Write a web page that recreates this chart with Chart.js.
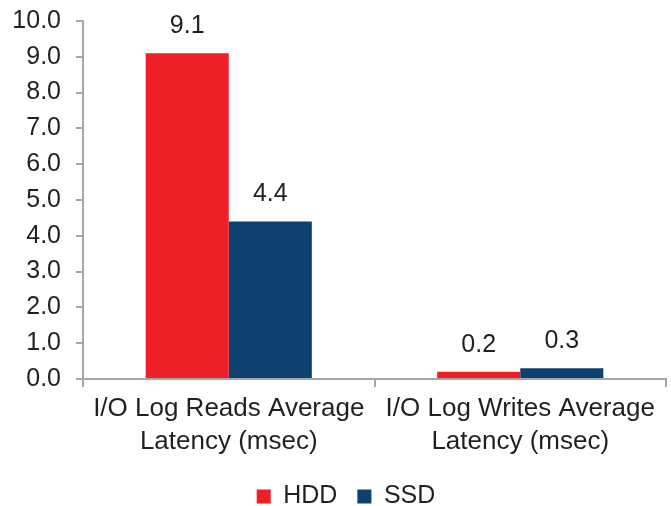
<!DOCTYPE html>
<html lang="en">
<head>
    <meta charset="UTF-8">
    <script src="https://cdn.jsdelivr.net/npm/chart.js"></script>
    <title>I/O Log Latency</title>
    <style>
        body { margin: 0; background: #fff; }
        #wrap { width: 671px; height: 506px; }
    </style>
</head>
<body>
    <div id="wrap"><canvas id="latencyChart" width="671" height="506"></canvas></div>

    <script>
        // chart data
        const categories = [
            ['I/O Log Reads Average', 'Latency (msec)'],
            ['I/O Log Writes Average', 'Latency (msec)']
        ];
        const hddValues = [9.1, 0.2];
        const ssdValues = [4.4, 0.3];
        const seriesNames = ['HDD', 'SSD'];

        const textColor = '#231F20';
        const axisColor = '#A6A6A6';
        const fontFamily = '"Liberation Sans", Arial, sans-serif';

        // draws the value above each bar
        const valueLabels = {
            id: 'valueLabels',
            afterDatasetsDraw(chart) {
                const ctx = chart.ctx;
                ctx.save();
                ctx.font = '25px ' + fontFamily;
                ctx.fillStyle = textColor;
                ctx.textAlign = 'center';
                ctx.textBaseline = 'middle';
                chart.data.datasets.forEach((ds, i) => {
                    chart.getDatasetMeta(i).data.forEach((bar, j) => {
                        ctx.fillText(ds.data[j].toFixed(1), bar.x, bar.y - 27);
                    });
                });
                ctx.restore();
            }
        };

        // legend in the original is centred a bit right of the canvas middle
        const shiftLegend = {
            id: 'shiftLegend',
            afterLayout(chart) {
                chart.legend.left += 26;
            }
        };

        let ctx = document.getElementById('latencyChart').getContext('2d');
        new Chart(ctx, {
            type: 'bar',
            data: {
                labels: categories,
                datasets: [{
                    label: seriesNames[0],
                    data: hddValues,
                    backgroundColor: '#ED1F27'
                }, {
                    label: seriesNames[1],
                    data: ssdValues,
                    backgroundColor: '#0C416F'
                }]
            },
            options: {
                responsive: false,
                animation: false,
                layout: { padding: { top: 21, right: 5, left: 0, bottom: -13 } },
                datasets: {
                    bar: { categoryPercentage: 0.57, barPercentage: 1.0 }
                },
                plugins: {
                    tooltip: { enabled: false },
                    legend: {
                        position: 'bottom',
                        labels: {
                            color: textColor,
                            font: { size: 25, family: fontFamily },
                            boxWidth: 14,
                            boxHeight: 14,
                            padding: 20
                        }
                    }
                },
                scales: {
                    x: {
                        afterFit(scale) { scale.height = 85; },
                        border: { color: axisColor, width: 2 },
                        grid: {
                            offset: true,
                            drawOnChartArea: false,
                            drawTicks: true,
                            tickLength: 8,
                            color: axisColor,
                            lineWidth: 2
                        },
                        ticks: {
                            color: textColor,
                            font: { size: 26, family: fontFamily, lineHeight: 1.25 },
                            maxRotation: 0,
                            autoSkip: false,
                            padding: 6
                        }
                    },
                    y: {
                        min: 0,
                        max: 10,
                        afterFit(scale) {
                            scale.width = 83;
                            scale.paddingTop = 0;
                            scale.paddingBottom = 0;
                        },
                        border: { color: axisColor, width: 2 },
                        grid: {
                            drawOnChartArea: false,
                            drawTicks: true,
                            tickLength: 7,
                            color: axisColor,
                            lineWidth: 2
                        },
                        ticks: {
                            stepSize: 1,
                            color: textColor,
                            font: { size: 25, family: fontFamily },
                            padding: 15,
                            callback: v => v.toFixed(1)
                        }
                    }
                }
            },
            plugins: [valueLabels, shiftLegend]
        });
    </script>
</body>
</html>
